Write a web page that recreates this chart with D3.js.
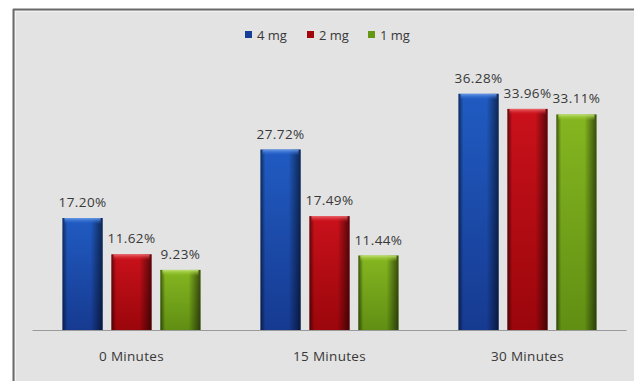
<!DOCTYPE html>
<html>
<head>
<meta charset="utf-8">
<script src="https://cdn.jsdelivr.net/npm/d3@7"></script>
<style>
  html, body { margin: 0; padding: 0; background: #ffffff; }
  svg { display: block; }
  text { font-family: "Open Sans", "Liberation Sans", sans-serif; fill: #383838; }
</style>
</head>
<body>
<svg id="chart" width="634" height="381"></svg>
<script>
// Time points along the x axis
const categories = ["0 Minutes", "15 Minutes", "30 Minutes"];
// Dose series (legend order)
const series = ["4 mg", "2 mg", "1 mg"];
// Percent values per series, one per time point
const values4mg = [17.20, 27.72, 36.28];
const values2mg = [11.62, 17.49, 33.96];
const values1mg = [9.23, 11.44, 33.11];
const seriesValues = [values4mg, values2mg, values1mg];

const palette = [
  { top: "#2260cc", bottom: "#173d98", cap: "#6a9ae6" },
  { top: "#d4121c", bottom: "#a2060c", cap: "#ec6a6e" },
  { top: "#8cc022", bottom: "#659614", cap: "#bfe070" }
];

const W = 634, H = 381;
const svg = d3.select("#chart");

// Panel background with a dark top/left frame
svg.append("rect").attr("x", 0).attr("y", 0).attr("width", W).attr("height", H).attr("fill", "#ffffff");
svg.append("rect").attr("x", 13).attr("y", 9).attr("width", W).attr("height", H)
  .attr("fill", "#e3e3e3");
svg.append("line").attr("x1", 13).attr("x2", W).attr("y1", 9.5).attr("y2", 9.5)
  .attr("stroke", "#6a6a6a").attr("stroke-width", 2);
svg.append("line").attr("x1", 13.5).attr("x2", 13.5).attr("y1", 9).attr("y2", H)
  .attr("stroke", "#6a6a6a").attr("stroke-width", 2);
svg.append("line").attr("x1", 15).attr("x2", W).attr("y1", 11.5).attr("y2", 11.5)
  .attr("stroke", "#f2f2f2").attr("stroke-width", 1);
svg.append("line").attr("x1", 15.5).attr("x2", 15.5).attr("y1", 11).attr("y2", H)
  .attr("stroke", "#f2f2f2").attr("stroke-width", 1);

// Gradients for the shaded bar look
const defs = svg.append("defs");
palette.forEach((c, i) => {
  const g = defs.append("linearGradient").attr("id", "bar" + i)
    .attr("x1", "0%").attr("x2", "0%").attr("y1", "0%").attr("y2", "100%");
  g.append("stop").attr("offset", "0%").attr("stop-color", c.top);
  g.append("stop").attr("offset", "100%").attr("stop-color", c.bottom);
  const t = defs.append("linearGradient").attr("id", "cap" + i)
    .attr("x1", "0%").attr("x2", "0%").attr("y1", "0%").attr("y2", "100%");
  t.append("stop").attr("offset", "0%").attr("stop-color", c.cap);
  t.append("stop").attr("offset", "100%").attr("stop-color", c.top).attr("stop-opacity", 0);
});
const shade = defs.append("linearGradient").attr("id", "shade")
  .attr("x1", "0%").attr("x2", "100%").attr("y1", "0%").attr("y2", "0%");
shade.append("stop").attr("offset", "0%").attr("stop-color", "#000").attr("stop-opacity", 0.55);
shade.append("stop").attr("offset", "12%").attr("stop-color", "#000").attr("stop-opacity", 0.05);
shade.append("stop").attr("offset", "70%").attr("stop-color", "#000").attr("stop-opacity", 0.05);
shade.append("stop").attr("offset", "100%").attr("stop-color", "#000").attr("stop-opacity", 0.6);

// Scales
const x0 = d3.scaleBand().domain(categories).range([32.5, 626.5])
  .paddingInner(0.303).paddingOuter(0.1515);
const x1 = d3.scaleBand().domain(series).range([0, x0.bandwidth()]).paddingInner(0.18);
const y = d3.scaleLinear().domain([0, 40]).range([330, 69.6]);

// Baseline axis with category labels
const xAxis = d3.axisBottom(x0).tickSize(0).tickPadding(21);
const gx = svg.append("g").attr("transform", "translate(0,330)").call(xAxis);
gx.select(".domain").attr("stroke", "#9a9a9a").attr("stroke-width", 1.2)
  .attr("d", "M32.5,0.5H626.5");
gx.selectAll("text").attr("font-size", 13.5).attr("letter-spacing", "0.3px")
  .style("font-family", "'Open Sans', 'Liberation Sans', sans-serif").attr("fill", "#383838");

// Bars
const rows = [];
categories.forEach((cat, ci) => {
  series.forEach((s, si) => rows.push({ cat, s, si, v: seriesValues[si][ci] }));
});

const bars = svg.append("g").selectAll("g").data(rows).join("g")
  .attr("transform", d => `translate(${x0(d.cat) + x1(d.s)},0)`);

bars.append("rect")
  .attr("x", 0).attr("y", d => y(d.v))
  .attr("width", x1.bandwidth()).attr("height", d => y(0) - y(d.v))
  .attr("fill", d => `url(#bar${d.si})`);
bars.append("rect")
  .attr("x", 0).attr("y", d => y(d.v))
  .attr("width", x1.bandwidth()).attr("height", d => y(0) - y(d.v))
  .attr("fill", "url(#shade)");
bars.append("rect")
  .attr("x", 2).attr("y", d => y(d.v))
  .attr("width", x1.bandwidth() - 4).attr("height", 6)
  .attr("fill", d => `url(#cap${d.si})`);

// Value labels
bars.append("text")
  .attr("x", x1.bandwidth() / 2).attr("y", d => y(d.v) - 11)
  .attr("text-anchor", "middle").attr("font-size", 13.5).attr("letter-spacing", "0.4px")
  .text(d => d.v.toFixed(2) + "%");

// Legend
const legendX = [245, 307, 368];
const legend = svg.append("g").selectAll("g").data(series).join("g")
  .attr("transform", (d, i) => `translate(${legendX[i]},31)`);
legend.append("rect").attr("width", 7).attr("height", 7)
  .attr("fill", (d, i) => palette[i].bottom);
legend.append("text").attr("x", 12).attr("y", 8.5).attr("font-size", 13).text(d => d);
</script>
</body>
</html>
